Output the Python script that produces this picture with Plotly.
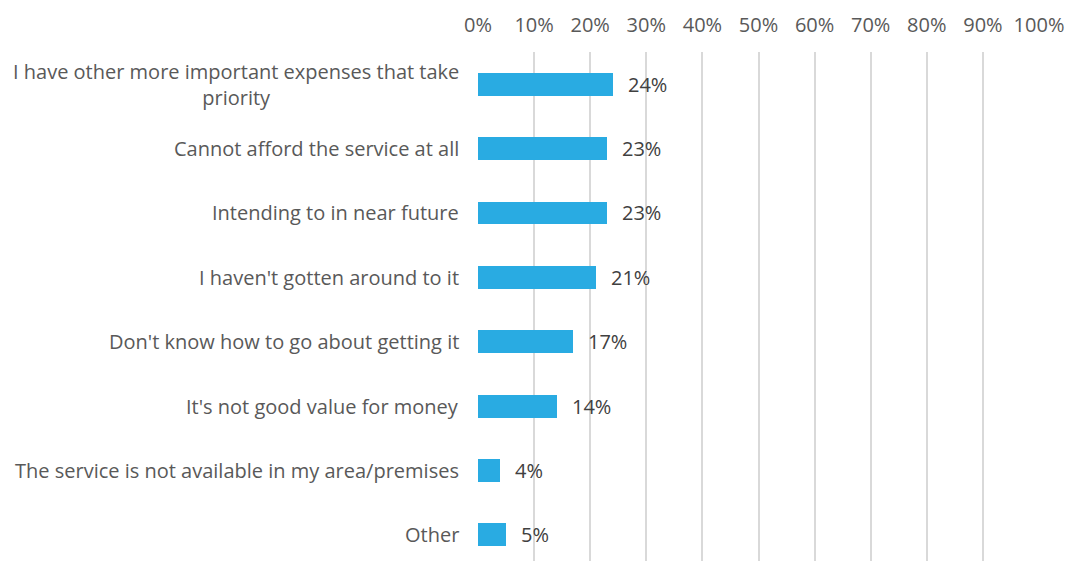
import plotly.graph_objects as go

categories = [
    "I have other more important expenses that take<br>priority",
    "Cannot afford the service at all",
    "Intending to in near future",
    "I haven't gotten around to it",
    "Don't know how to go about getting it",
    "It's not good value for money",
    "The service is not available in my area/premises",
    "Other",
]
values = [24, 23, 23, 21, 17, 14, 4, 5]
tick_values = [0, 10, 20, 30, 40, 50, 60, 70, 80, 90, 100]
tick_labels = [f"{v}%" for v in tick_values]

FONT = "Open Sans"
BAR_COLOR = "#29ABE2"

positions = list(range(len(categories)))

fig = go.Figure(
    go.Bar(
        x=values,
        y=positions,
        orientation="h",
        width=0.357,
        marker=dict(color=BAR_COLOR, line=dict(width=0)),
        hoverinfo="skip",
    )
)

# value labels to the right of each bar
for pos, val in zip(positions, values):
    fig.add_annotation(
        x=val, y=pos, xref="x", yref="y",
        text=f"{val}%", showarrow=False,
        xanchor="left", yanchor="middle", xshift=13,
        font=dict(family=FONT, size=20, color="#404040"),
    )

# category labels, right-aligned against the plot, wrapped lines centred
for pos, cat in zip(positions, categories):
    fig.add_annotation(
        x=0, y=pos, xref="paper", yref="y",
        text=cat, showarrow=False,
        xanchor="right", yanchor="middle", xshift=-17, align="center",
        font=dict(family=FONT, size=20, color="#595959"),
    )

fig.update_layout(
    width=1067, height=561,
    margin=dict(l=478, r=28, t=52, b=0),
    paper_bgcolor="white", plot_bgcolor="white",
    showlegend=False,
    bargap=0,
    xaxis=dict(
        side="top", range=[0, 100],
        tickmode="array", tickvals=tick_values, ticktext=tick_labels,
        showgrid=True, gridcolor="#D9D9D9", gridwidth=1.5,
        zeroline=False, showline=False, ticks="",
        ticklabelstandoff=15,
        tickfont=dict(family=FONT, size=20, color="#595959"),
    ),
    yaxis=dict(
        range=[7.404, -0.5], showticklabels=False,
        showgrid=False, zeroline=False, showline=False,
    ),
)

fig.write_html("out.html")
